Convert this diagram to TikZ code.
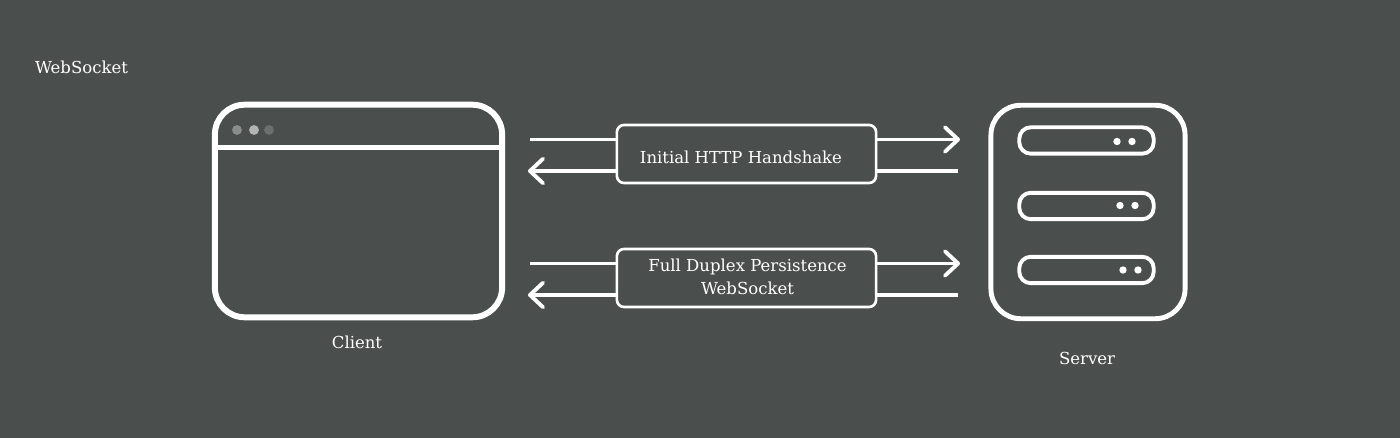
\documentclass[tikz,border=0pt]{standalone}
\usepackage{fontspec}
\setmainfont{DejaVu Serif}
\usetikzlibrary{arrows.meta}
\definecolor{slate}{HTML}{4A4F4D}
\tikzset{
    caption/.style={text=white, font=\fontsize{9.4}{13}\selectfont, inner sep=0pt, align=center},
    frame/.style={draw=white, rounded corners=17pt, outer sep=0pt, inner sep=0pt},
    msgbox/.style={draw=white, line width=1.5pt, rounded corners=4pt, outer sep=0pt, inner sep=0pt,
        minimum width=147.5pt, minimum height=33pt},
    slot/.style={draw=white, line width=2.2pt, rounded corners=6.5pt, outer sep=0pt, inner sep=0pt,
        minimum width=76.5pt, minimum height=15pt},
    wire/.style={draw=white, line width=2.2pt},
    flow/.style={wire, -{Straight Barb[round, length=7.5pt, width=14pt]}},
    led/.style={fill=white, circle, inner sep=0pt, minimum size=4.2pt}
}
\begin{document}
\begin{tikzpicture}[x=0.02cm, y=-0.02cm]
    \useasboundingbox (0,0) rectangle (1400,438);
    \fill[slate] (0,0) rectangle (1400,438);
    \node[caption] (title) at (81.5,67) {WebSocket};

    % client window
    \node[frame, line width=3.4pt, minimum width=163.5pt, minimum height=121pt] (client) at (358.5,211) {};
    \coordinate (barl) at (216,147.5);
    \coordinate (barr) at (501,147.5);
    \draw[white, line width=3.4pt] (barl) -- (barr);
    \node[circle, fill=white!35!slate, minimum size=5.6pt, inner sep=0pt] (dota) at (237,130) {};
    \node[circle, fill=white!58!slate, minimum size=5.6pt, inner sep=0pt] (dotb) at (254,130) {};
    \node[circle, fill=white!18!slate, minimum size=5.6pt, inner sep=0pt] (dotc) at (269,130) {};
    \node[caption] (clientlabel) at (357,342) {Client};

    % server rack
    \node[frame, line width=2.8pt, minimum width=110.5pt, minimum height=121.5pt] (server) at (1088,212) {};
    \node[slot] (rowa) at (1086.5,140.5) {};
    \node[slot] (rowb) at (1086.5,206) {};
    \node[slot] (rowc) at (1086.5,270) {};
    \node[led] at (1117,141.5) {};
    \node[led] at (1132,141.5) {};
    \node[led] at (1120,205.5) {};
    \node[led] at (1135,205.5) {};
    \node[led] at (1123,270) {};
    \node[led] at (1138,270) {};
    \node[caption] (serverlabel) at (1087,358) {Server};

    % message boxes
    \node[msgbox] (shake) at (746.5,154) {};
    \node[caption] (shakelabel) at (741,157) {Initial HTTP Handshake};
    \node[msgbox] (duplex) at (746.5,278) {};
    \node[caption] (duplexlabel) at (747.5,277) {Full Duplex Persistence\\WebSocket};

    % free ends of the connectors
    \coordinate (outa) at (530,139.5);
    \coordinate (ina) at (528,171);
    \coordinate (outb) at (530,263.5);
    \coordinate (inb) at (528,295);
    \coordinate (oute) at (960,139.5);
    \coordinate (ine) at (958,171);
    \coordinate (outf) at (960,263.5);
    \coordinate (inf) at (958,295);

    \draw[wire] (outa) -- (shake.west |- outa);
    \draw[flow] (shake.east |- oute) -- (oute);
    \draw[wire] (ine) -- (shake.east |- ine);
    \draw[flow] (shake.west |- ina) -- (ina);
    \draw[wire] (outb) -- (duplex.west |- outb);
    \draw[flow] (duplex.east |- outf) -- (outf);
    \draw[wire] (inf) -- (duplex.east |- inf);
    \draw[flow] (duplex.west |- inb) -- (inb);
\end{tikzpicture}
\end{document}
